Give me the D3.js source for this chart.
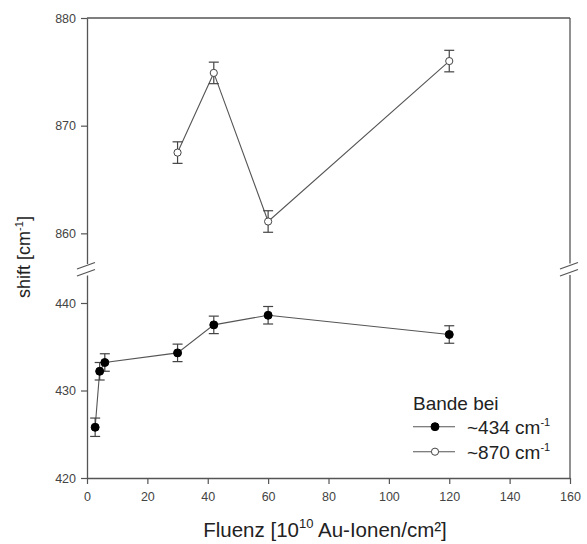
<!DOCTYPE html>
<html><head><meta charset="utf-8">
<script src="https://cdn.jsdelivr.net/npm/d3@7"></script>
<style>body{margin:0;background:#fff}svg{display:block}text{font-family:"Liberation Sans",Arial,sans-serif}</style>
</head><body><svg id="c" width="587" height="544"></svg>
<script>
const lowX = [2.7, 4.2, 5.9, 30, 42, 60, 120];
const lowY = [425.8, 432.2, 433.2, 434.3, 437.5, 438.6, 436.4];
const lowErr = [1.05, 1.0, 1.0, 1.0, 1.0, 1.0, 1.0];
const highX = [30, 42, 60, 120];
const highY = [867.5, 874.9, 861.1, 876.0];
const highErr = [1.0, 1.0, 1.0, 1.0];
const xTicks = [0, 20, 40, 60, 80, 100, 120, 140, 160];
const lowTicks = [420, 430, 440];
const highTicks = [860, 870, 880];
const legendLabels = ["~434 cm", "~870 cm"];

const svg = d3.select("#c");
const L = 87, R = 570, T = 18, B = 478;
const axisCol = "#555";
const x = d3.scaleLinear().domain([0, 160]).range([L, R]);
const yLow = d3.scaleLinear().domain([420, 443.2]).range([B, 275]);
const yHigh = d3.scaleLinear().domain([857.2, 880]).range([263.5, T]);

// axes
const gx = svg.append("g").attr("transform", `translate(0,${B})`)
  .call(d3.axisBottom(x).tickValues(xTicks).tickSize(6).tickPadding(8).tickSizeOuter(0));
const gyl = svg.append("g").attr("transform", `translate(${L},0)`)
  .call(d3.axisLeft(yLow).tickValues(lowTicks).tickSize(6).tickPadding(5).tickSizeOuter(0));
const gyh = svg.append("g").attr("transform", `translate(${L},0)`)
  .call(d3.axisLeft(yHigh).tickValues(highTicks).tickSize(6).tickPadding(5).tickSizeOuter(0));
[gx, gyl, gyh].forEach(g => {
  g.select(".domain").attr("stroke", axisCol).attr("stroke-width", 1.3);
  g.selectAll(".tick line").attr("stroke", axisCol).attr("stroke-width", 1.2);
  g.selectAll(".tick text").attr("fill", "#444").style("font-size", "12.5px")
    .style("font-family", '"Liberation Sans",Arial,sans-serif');
});
// top and right axis lines
svg.append("line").attr("x1", L).attr("x2", R).attr("y1", T).attr("y2", T).attr("stroke", axisCol).attr("stroke-width", 1.3);
svg.append("line").attr("x1", R).attr("x2", R).attr("y1", T).attr("y2", yHigh.range()[0]).attr("stroke", axisCol).attr("stroke-width", 1.3);
svg.append("line").attr("x1", R).attr("x2", R).attr("y1", yLow.range()[1]).attr("y2", B).attr("stroke", axisCol).attr("stroke-width", 1.3);

// break marks
[L, R].forEach(cx => {
  [265.5, 272.5].forEach(cy => {
    svg.append("line").attr("x1", cx - 10).attr("y1", cy + 3.5).attr("x2", cx + 8).attr("y2", cy - 3)
      .attr("stroke", axisCol).attr("stroke-width", 1.3);
  });
});

function series(xs, ys, es, y, filled) {
  const pts = xs.map((v, i) => ({x: v, y: ys[i], e: es[i]}));
  svg.append("path").datum(pts)
    .attr("d", d3.line().x(d => x(d.x)).y(d => y(d.y)))
    .attr("fill", "none").attr("stroke", "#555").attr("stroke-width", 1.1);
  const g = svg.append("g").attr("stroke", "#444").attr("stroke-width", 1.2);
  pts.forEach(d => {
    g.append("line").attr("x1", x(d.x)).attr("x2", x(d.x)).attr("y1", y(d.y - d.e)).attr("y2", y(d.y + d.e));
    [d.y - d.e, d.y + d.e].forEach(v => g.append("line").attr("x1", x(d.x) - 5).attr("x2", x(d.x) + 5).attr("y1", y(v)).attr("y2", y(v)));
  });
  svg.append("g").selectAll("circle").data(pts).join("circle")
    .attr("cx", d => x(d.x)).attr("cy", d => y(d.y)).attr("r", filled ? 4 : 3.6)
    .attr("fill", filled ? "#000" : "#fff").attr("stroke", filled ? "#000" : "#444").attr("stroke-width", 1);
}
series(lowX, lowY, lowErr, yLow, true);
series(highX, highY, highErr, yHigh, false);

// axis titles
svg.append("text").attr("transform", "translate(30,257) rotate(-90)").attr("text-anchor", "middle")
  .style("font-size", "18px").attr("fill", "#222")
  .html('shift [cm<tspan dy="-7" style="font-size:11px">-1</tspan><tspan dy="7">]</tspan>');
svg.append("text").attr("x", 325).attr("y", 537).attr("text-anchor", "middle")
  .style("font-size", "20.5px").attr("fill", "#222")
  .html('Fluenz [10<tspan dy="-9" style="font-size:13px">10</tspan><tspan dy="9"> Au-Ionen/cm²]</tspan>');

// legend
svg.append("text").attr("x", 413).attr("y", 410).style("font-size", "19px").attr("fill", "#222").text("Bande bei");
[[426.7, true], [451.7, false]].forEach(([ly, filled], i) => {
  svg.append("line").attr("x1", 413).attr("x2", 455).attr("y1", ly).attr("y2", ly).attr("stroke", "#555").attr("stroke-width", 1.1);
  svg.append("circle").attr("cx", 435).attr("cy", ly).attr("r", filled ? 4 : 3.6)
    .attr("fill", filled ? "#000" : "#fff").attr("stroke", filled ? "#000" : "#444");
  svg.append("text").attr("x", 467).attr("y", ly + 7).style("font-size", "19px").attr("fill", "#222")
    .html(legendLabels[i] + '<tspan dy="-8" style="font-size:11px">-1</tspan>');
});
</script></body></html>
